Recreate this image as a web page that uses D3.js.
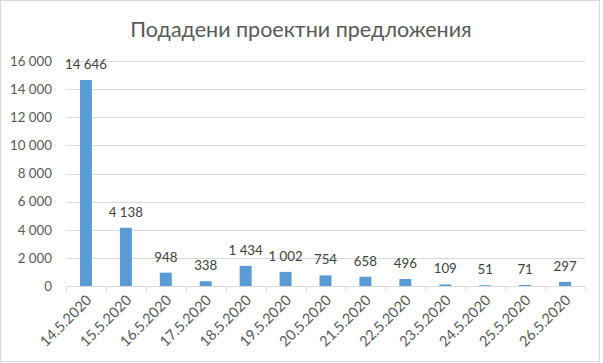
<!DOCTYPE html>
<html>
<head>
<meta charset="utf-8">
<script src="https://cdn.jsdelivr.net/npm/d3@7"></script>
<style>
  body { margin: 0; background: #fff; }
  text { font-family: Lato, "Open Sans", sans-serif; }
</style>
</head>
<body>
<svg id="chart" width="603" height="363"></svg>
<script>
// Chart data
const dates = ['14.5.2020', '15.5.2020', '16.5.2020', '17.5.2020', '18.5.2020', '19.5.2020',
  '20.5.2020', '21.5.2020', '22.5.2020', '23.5.2020', '24.5.2020', '25.5.2020', '26.5.2020'];
const proposals = [14646, 4138, 948, 338, 1434, 1002, 754, 658, 496, 109, 51, 71, 297];
const yTicks = [0, 2000, 4000, 6000, 8000, 10000, 12000, 14000, 16000];
const title = 'Подадени проектни предложения';

const svg = d3.select('#chart');
const margin = { left: 66, right: 18, top: 61, bottom: 77 };
const width = 603, height = 363;

// thousands with a space, like the source
const fmt = v => d3.format(',')(v).replace(/,/g, ' ');

// outer frame
svg.append('rect')
  .attr('x', 0.5).attr('y', 0.5)
  .attr('width', 599).attr('height', 361)
  .attr('fill', '#fff')
  .attr('stroke', '#d9d9d9');

svg.append('text')
  .attr('x', 301).attr('y', 37)
  .attr('text-anchor', 'middle')
  .attr('font-size', 21.5)
  .attr('fill', '#595959')
  .text(title);

const x = d3.scaleBand()
  .domain(dates)
  .range([margin.left, width - margin.right])
  .paddingInner(0.7)
  .paddingOuter(0.35);

const y = d3.scaleLinear()
  .domain([0, 16000])
  .range([height - margin.bottom, margin.top]);

// gridlines
svg.append('g')
  .selectAll('line')
  .data(yTicks.slice(1))
  .join('line')
  .attr('x1', margin.left).attr('x2', width - margin.right)
  .attr('y1', d => Math.round(y(d)) + 0.5)
  .attr('y2', d => Math.round(y(d)) + 0.5)
  .attr('stroke', '#d9d9d9');

// y labels
const yAxis = svg.append('g')
  .attr('transform', `translate(${margin.left},0)`)
  .call(d3.axisLeft(y).tickValues(yTicks).tickFormat(fmt).tickSize(0).tickPadding(14));
yAxis.select('.domain').remove();
yAxis.selectAll('text').attr('font-size', 13.3).attr('fill', '#595959');

// bars
svg.append('g')
  .selectAll('rect')
  .data(proposals)
  .join('rect')
  .attr('x', (d, i) => x(dates[i]))
  .attr('y', d => y(d))
  .attr('width', x.bandwidth())
  .attr('height', d => y(0) - y(d))
  .attr('fill', '#5b9bd5');

// value labels
svg.append('g')
  .selectAll('text')
  .data(proposals)
  .join('text')
  .attr('x', (d, i) => x(dates[i]) + x.bandwidth() / 2)
  .attr('y', d => y(d) - 11)
  .attr('text-anchor', 'middle')
  .attr('font-size', 13.3)
  .attr('fill', '#404040')
  .text(fmt);

// x axis with tick marks between categories
const xAxisY = Math.round(y(0)) + 0.5;
const boundaries = d3.range(dates.length + 1).map(i => margin.left + i * (width - margin.left - margin.right) / dates.length);
const xg = svg.append('g');
xg.append('line')
  .attr('x1', margin.left).attr('x2', width - margin.right)
  .attr('y1', xAxisY).attr('y2', xAxisY)
  .attr('stroke', '#d9d9d9');
xg.selectAll('line.tick')
  .data(boundaries)
  .join('line')
  .attr('class', 'tick')
  .attr('x1', d => Math.round(d) + 0.5).attr('x2', d => Math.round(d) + 0.5)
  .attr('y1', xAxisY).attr('y2', xAxisY + 5)
  .attr('stroke', '#d9d9d9');

xg.selectAll('text')
  .data(dates)
  .join('text')
  .attr('transform', d => `translate(${x(d) + x.bandwidth() / 2 + 3},${xAxisY + 11}) rotate(-45)`)
  .attr('text-anchor', 'end')
  .attr('dy', '0.35em')
  .attr('font-size', 14.5)
  .attr('fill', '#595959')
  .text(d => d);
</script>
</body>
</html>
